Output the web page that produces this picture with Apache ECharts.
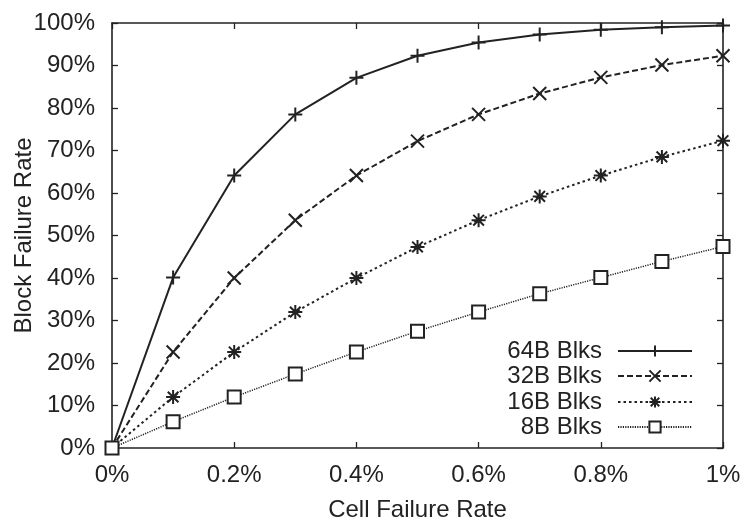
<!DOCTYPE html>
<html>
<head>
<meta charset="utf-8">
<script src="https://cdn.jsdelivr.net/npm/echarts@6/dist/echarts.min.js"></script>
<style>html,body{margin:0;padding:0;background:#fff}#c{width:745px;height:523px}</style>
</head>
<body>
<div id="c"></div>
<script>
var cellRates = [0, 0.1, 0.2, 0.3, 0.4, 0.5, 0.6, 0.7, 0.8, 0.9, 1.0];
var blk64 = [0, 40.1, 64.1, 78.5, 87.1, 92.3, 95.4, 97.3, 98.4, 99.0, 99.4];
var blk32 = [0, 22.6, 40.0, 53.6, 64.1, 72.2, 78.5, 83.4, 87.2, 90.1, 92.3];
var blk16 = [0, 12.0, 22.6, 32.0, 40.0, 47.3, 53.6, 59.2, 64.1, 68.5, 72.3];
var blk8 = [0, 6.2, 12.0, 17.4, 22.6, 27.5, 32.0, 36.3, 40.1, 43.9, 47.4];
var seriesNames = ['64B Blks', '32B Blks', '16B Blks', '8B Blks'];
var xTicks = {0: '0%', 0.2: '0.2%', 0.4: '0.4%', 0.6: '0.6%', 0.8: '0.8%', 1: '1%'};

var ink = '#222';
var font = 'Liberation Sans, Arial, Helvetica, sans-serif';
var fs = 24;

function pts(ys) { return cellRates.map(function (x, i) { return [x, ys[i]]; }); }

var symPlus = 'path://M0,5L10,5M5,0L5,10';
var symCross = 'path://M0,0L10,10M10,0L0,10';
var symStar = 'path://M5,0L5,10M0,5L10,5M1.2,1.2L8.8,8.8M8.8,1.2L1.2,8.8';

function mk(name, ys, symbol, size, dash, fill, w) {
  return {
    name: name, type: 'line', data: pts(ys), clip: false,
    symbol: symbol, symbolSize: size, showSymbol: true,
    lineStyle: { color: ink, width: w, type: dash },
    itemStyle: { color: fill, borderColor: ink, borderWidth: 2 },
    emphasis: { disabled: true }, animation: false, z: 3
  };
}

var series = [
  mk(seriesNames[0], blk64, symPlus, 14, 'solid', 'rgba(0,0,0,0)', 2),
  mk(seriesNames[1], blk32, symCross, 13, [6, 3], 'rgba(0,0,0,0)', 2),
  mk(seriesNames[2], blk16, symStar, 14, [2.5, 3], 'rgba(0,0,0,0)', 2),
  mk(seriesNames[3], blk8, 'rect', 13, [1.2, 1.2], '#fff', 1.5)
];

var legendTops = [339, 364, 390, 415];
var legends = seriesNames.map(function (n, i) {
  return {
    data: [n], right: 52, top: legendTops[i], align: 'right', orient: 'vertical',
    itemWidth: 74, itemHeight: 14, padding: 0, selectedMode: false,
    textStyle: { fontFamily: font, fontSize: fs, color: ink, padding: [0, 11, 0, 0] }
  };
});

var axisLine = { show: true, onZero: false, lineStyle: { color: ink, width: 1.6 } };
var tick = { show: true, inside: true, length: 6, lineStyle: { color: ink, width: 1.3 } };

var option = {
  backgroundColor: '#fff',
  animation: false,
  grid: { left: 112, right: 22, top: 23, bottom: 75, containLabel: false, outerBoundsMode: 'none' },
  legend: legends,
  xAxis: [{
    type: 'value', min: 0, max: 1, interval: 0.2, position: 'bottom',
    name: 'Cell Failure Rate', nameLocation: 'middle', nameGap: 50, nameMoveOverlap: false,
    nameTextStyle: { fontFamily: font, fontSize: fs, color: ink },
    axisLine: axisLine, axisTick: tick, splitLine: { show: false },
    axisLabel: { margin: 15, fontFamily: font, fontSize: fs, color: ink,
      formatter: function (v) { var k = Math.round(v * 10) / 10; return xTicks[k] !== undefined ? xTicks[k] : ''; } }
  }, {
    type: 'value', min: 0, max: 1, interval: 0.2, position: 'top',
    axisLine: axisLine, axisTick: tick, splitLine: { show: false }, axisLabel: { show: false }
  }],
  yAxis: [{
    type: 'value', min: 0, max: 100, interval: 10, position: 'left',
    name: 'Block Failure Rate', nameLocation: 'middle', nameGap: 76, nameMoveOverlap: false,
    nameTextStyle: { fontFamily: font, fontSize: fs, color: ink },
    axisLine: axisLine, axisTick: tick, splitLine: { show: false },
    axisLabel: { margin: 17, fontFamily: font, fontSize: fs, color: ink, formatter: '{value}%' }
  }, {
    type: 'value', min: 0, max: 100, interval: 10, position: 'right',
    axisLine: axisLine, axisTick: tick, splitLine: { show: false }, axisLabel: { show: false }
  }],
  series: series
};

var chart = echarts.init(document.getElementById('c'), null, { renderer: 'canvas' });
chart.setOption(option);
</script>
</body>
</html>
